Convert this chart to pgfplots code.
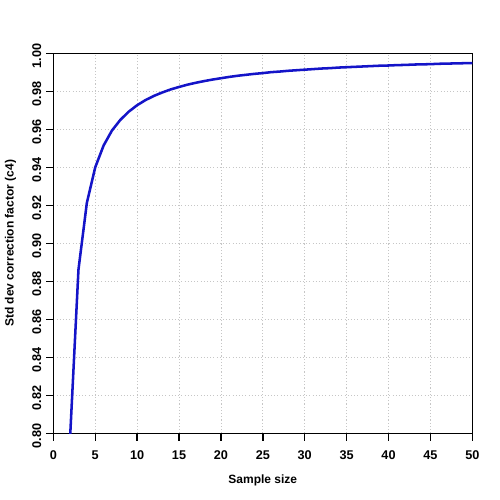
\documentclass[border=0pt]{standalone}
\usepackage{pgfplots}
\pgfplotsset{compat=1.18}
\usepackage{fontspec}
\setmainfont{Liberation Sans}
\begin{document}
\begin{tikzpicture}
\path[use as bounding box] (-40pt,-50pt) rectangle (335pt,325pt);
\begin{axis}[
  at={(0,0)}, anchor=south west,
  scale only axis, width=314.25pt, height=285pt,
  xmin=0, xmax=50, ymin=0.80, ymax=1.00,
  xtick={0,5,...,50},
  ytick={0.80,0.82,...,1.001},
  tick pos=left,
  tick align=outside,
  major tick length=5.5pt,
  every tick/.style={black, line width=1pt},
  yticklabel style={rotate=90, anchor=south, xshift=-2pt, /pgf/number format/fixed, /pgf/number format/fixed zerofill, /pgf/number format/precision=2, font=\bfseries\fontsize{9.5}{10}\selectfont},
  xticklabel style={yshift=-4pt, font=\bfseries\fontsize{9.5}{10}\selectfont},
  /pgf/number format/assume math mode=true,
  axis line style={black, line width=1pt},
  xmajorgrids, ymajorgrids,
  major grid style={draw=gray!45, dash pattern=on 0.8pt off 1.6pt, line width=0.6pt},
  xlabel={\bfseries Sample size},
  ylabel={\bfseries Std dev correction factor (c4)},
  label style={font=\bfseries\fontsize{9}{10}\selectfont},
  xlabel style={at={(axis description cs:0.5,-0.1228)}, anchor=center},
  ylabel style={at={(axis description cs:-0.1019,0.5)}, anchor=center},
]
\addplot[color={rgb,255:red,20;green,20;blue,200}, line width=1.9pt, no marks] coordinates {
(2,0.7979)(3,0.8862)(4,0.9213)(5,0.9400)(6,0.9515)(7,0.9594)(8,0.9650)(9,0.9693)(10,0.9727)
(11,0.9754)(12,0.9776)(13,0.9794)(14,0.9810)(15,0.9823)(16,0.9835)(17,0.9845)(18,0.9854)(19,0.9862)(20,0.9869)
(21,0.9876)(22,0.9882)(23,0.9887)(24,0.9892)(25,0.9896)(26,0.9901)(27,0.9904)(28,0.9908)(29,0.9911)(30,0.9914)
(31,0.9917)(32,0.9920)(33,0.9922)(34,0.9925)(35,0.9927)(36,0.9929)(37,0.9931)(38,0.9933)(39,0.9935)(40,0.9936)
(41,0.9938)(42,0.9939)(43,0.9941)(44,0.9942)(45,0.9943)(46,0.9945)(47,0.9946)(48,0.9947)(49,0.9948)(50,0.9949)
};
\end{axis}
\end{tikzpicture}
\end{document}
